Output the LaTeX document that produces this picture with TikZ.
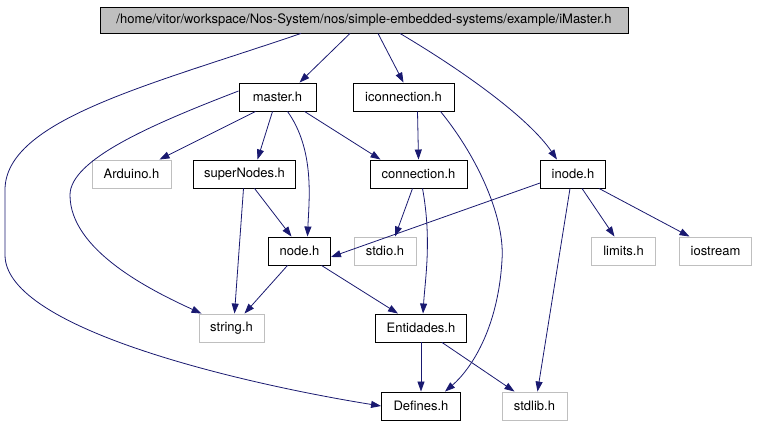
\documentclass[tikz,border=0pt]{standalone}
\usepackage{fontspec}
\setmainfont{TeX Gyre Heros}
\usetikzlibrary{arrows.meta}
\definecolor{edgeblue}{HTML}{191970}
\definecolor{sysgray}{HTML}{BFBFBF}
\begin{document}
\begin{tikzpicture}[x=1pt, y=-1pt, font=\fontsize{13}{15}\selectfont]
\tikzstyle{file}=[draw=black, line width=0.9pt, minimum height=28pt, inner sep=0pt]
\tikzstyle{sysfile}=[file, draw=sysgray]
\tikzstyle{dep}=[draw=edgeblue, line width=0.8pt, -{Triangle[length=10pt, width=7pt]}, edgeblue]
\useasboundingbox (0,0) rectangle (757,427);
\node[file, fill=sysgray, minimum width=528pt, minimum height=26pt] (imaster) at (364,20) {/home/vitor/workspace/Nos-System/nos/simple-embedded-systems/example/iMaster.h};
\node[file, minimum width=77pt] (master) at (277.5,97) {master.h}; \node[file, minimum width=101pt] (iconn) at (403.5,97) {iconnection.h};
\node[sysfile, minimum width=79pt] (arduino) at (131.5,174) {Arduino.h}; \node[file, minimum width=102pt] (supern) at (244.5,174) {superNodes.h};
\node[file, minimum width=97pt] (conn) at (418.5,174) {connection.h}; \node[file, minimum width=65pt] (inode) at (573,174) {inode.h};
\node[file, minimum width=62pt] (nodeh) at (299.5,251) {node.h}; \node[sysfile, minimum width=62pt] (stdio) at (385,251) {stdio.h};
\node[sysfile, minimum width=64pt] (limits) at (623.5,251) {limits.h}; \node[sysfile, minimum width=72pt] (iostream) at (715.5,251) {iostream};
\node[sysfile, minimum width=65pt] (string) at (231.5,328) {string.h}; \node[file, minimum width=91pt] (entid) at (421,328) {Entidades.h};
\node[file, minimum width=79pt] (defines) at (421,406) {Defines.h}; \node[sysfile, minimum width=65pt] (stdlib) at (534.5,406) {stdlib.h};
% from the top file
\draw[dep] ([xshift=-63pt]imaster.south) .. controls (150,85) and (5,120) .. (5,190) -- (5,255) .. controls (5,330) and (250,385) .. (defines.west);
\draw[dep] ([xshift=-14pt]imaster.south) -- ([xshift=22pt]master.north);
\draw[dep] ([xshift=14pt]imaster.south) -- (iconn.north);
\draw[dep] ([xshift=36pt]imaster.south) .. controls (470,75) and (530,120) .. ([xshift=-16pt]inode.north);
% master.h
\draw[dep] ([xshift=-22pt]master.south) -- ([xshift=28pt]arduino.north);
\draw[dep] ([yshift=6pt]master.west) .. controls (150,125) and (70,160) .. (70,195) .. controls (70,250) and (150,290) .. ([xshift=3pt]string.north west);
\draw[dep] ([xshift=-5pt]master.south) -- ([xshift=13pt]supern.north);
\draw[dep] ([xshift=10pt]master.south) .. controls (315,150) and (309,200) .. ([xshift=8pt]nodeh.north);
\draw[dep] ([xshift=27pt]master.south) -- ([xshift=-38pt]conn.north);
% iconnection.h
\draw[dep] ([xshift=14pt]iconn.south) -- (conn.north);
\draw[dep] ([xshift=37pt]iconn.south) .. controls (480,160) and (505,220) .. (502,260) .. controls (498,330) and (470,370) .. ([xshift=24pt]defines.north);
% inode.h
\draw[dep] ([yshift=-9pt]inode.west) -- ([yshift=-6pt]nodeh.east);
\draw[dep] ([xshift=-3pt]inode.south) -- ([xshift=3pt]stdlib.north);
\draw[dep] ([xshift=9pt]inode.south) -- ([xshift=-9pt]limits.north);
\draw[dep] ([xshift=26pt]inode.south) -- ([xshift=-26pt]iostream.north);
% superNodes.h
\draw[dep] ([xshift=-1pt]supern.south) -- ([xshift=3pt]string.north);
\draw[dep] ([xshift=10pt]supern.south) -- ([xshift=-8pt]nodeh.north);
% connection.h
\draw[dep] ([xshift=-6pt]conn.south) -- ([xshift=10pt]stdio.north);
\draw[dep] ([xshift=4pt]conn.south) .. controls (432,240) and (425,280) .. ([xshift=2pt]entid.north);
% node.h
\draw[dep] ([xshift=-12pt]nodeh.south) -- ([xshift=13pt]string.north);
\draw[dep] ([xshift=22pt]nodeh.south) -- ([xshift=-23pt]entid.north);
% Entidades.h
\draw[dep] (entid.south) -- (defines.north);
\draw[dep] ([xshift=21pt]entid.south) -- ([xshift=-20pt]stdlib.north);
\end{tikzpicture}
\end{document}
